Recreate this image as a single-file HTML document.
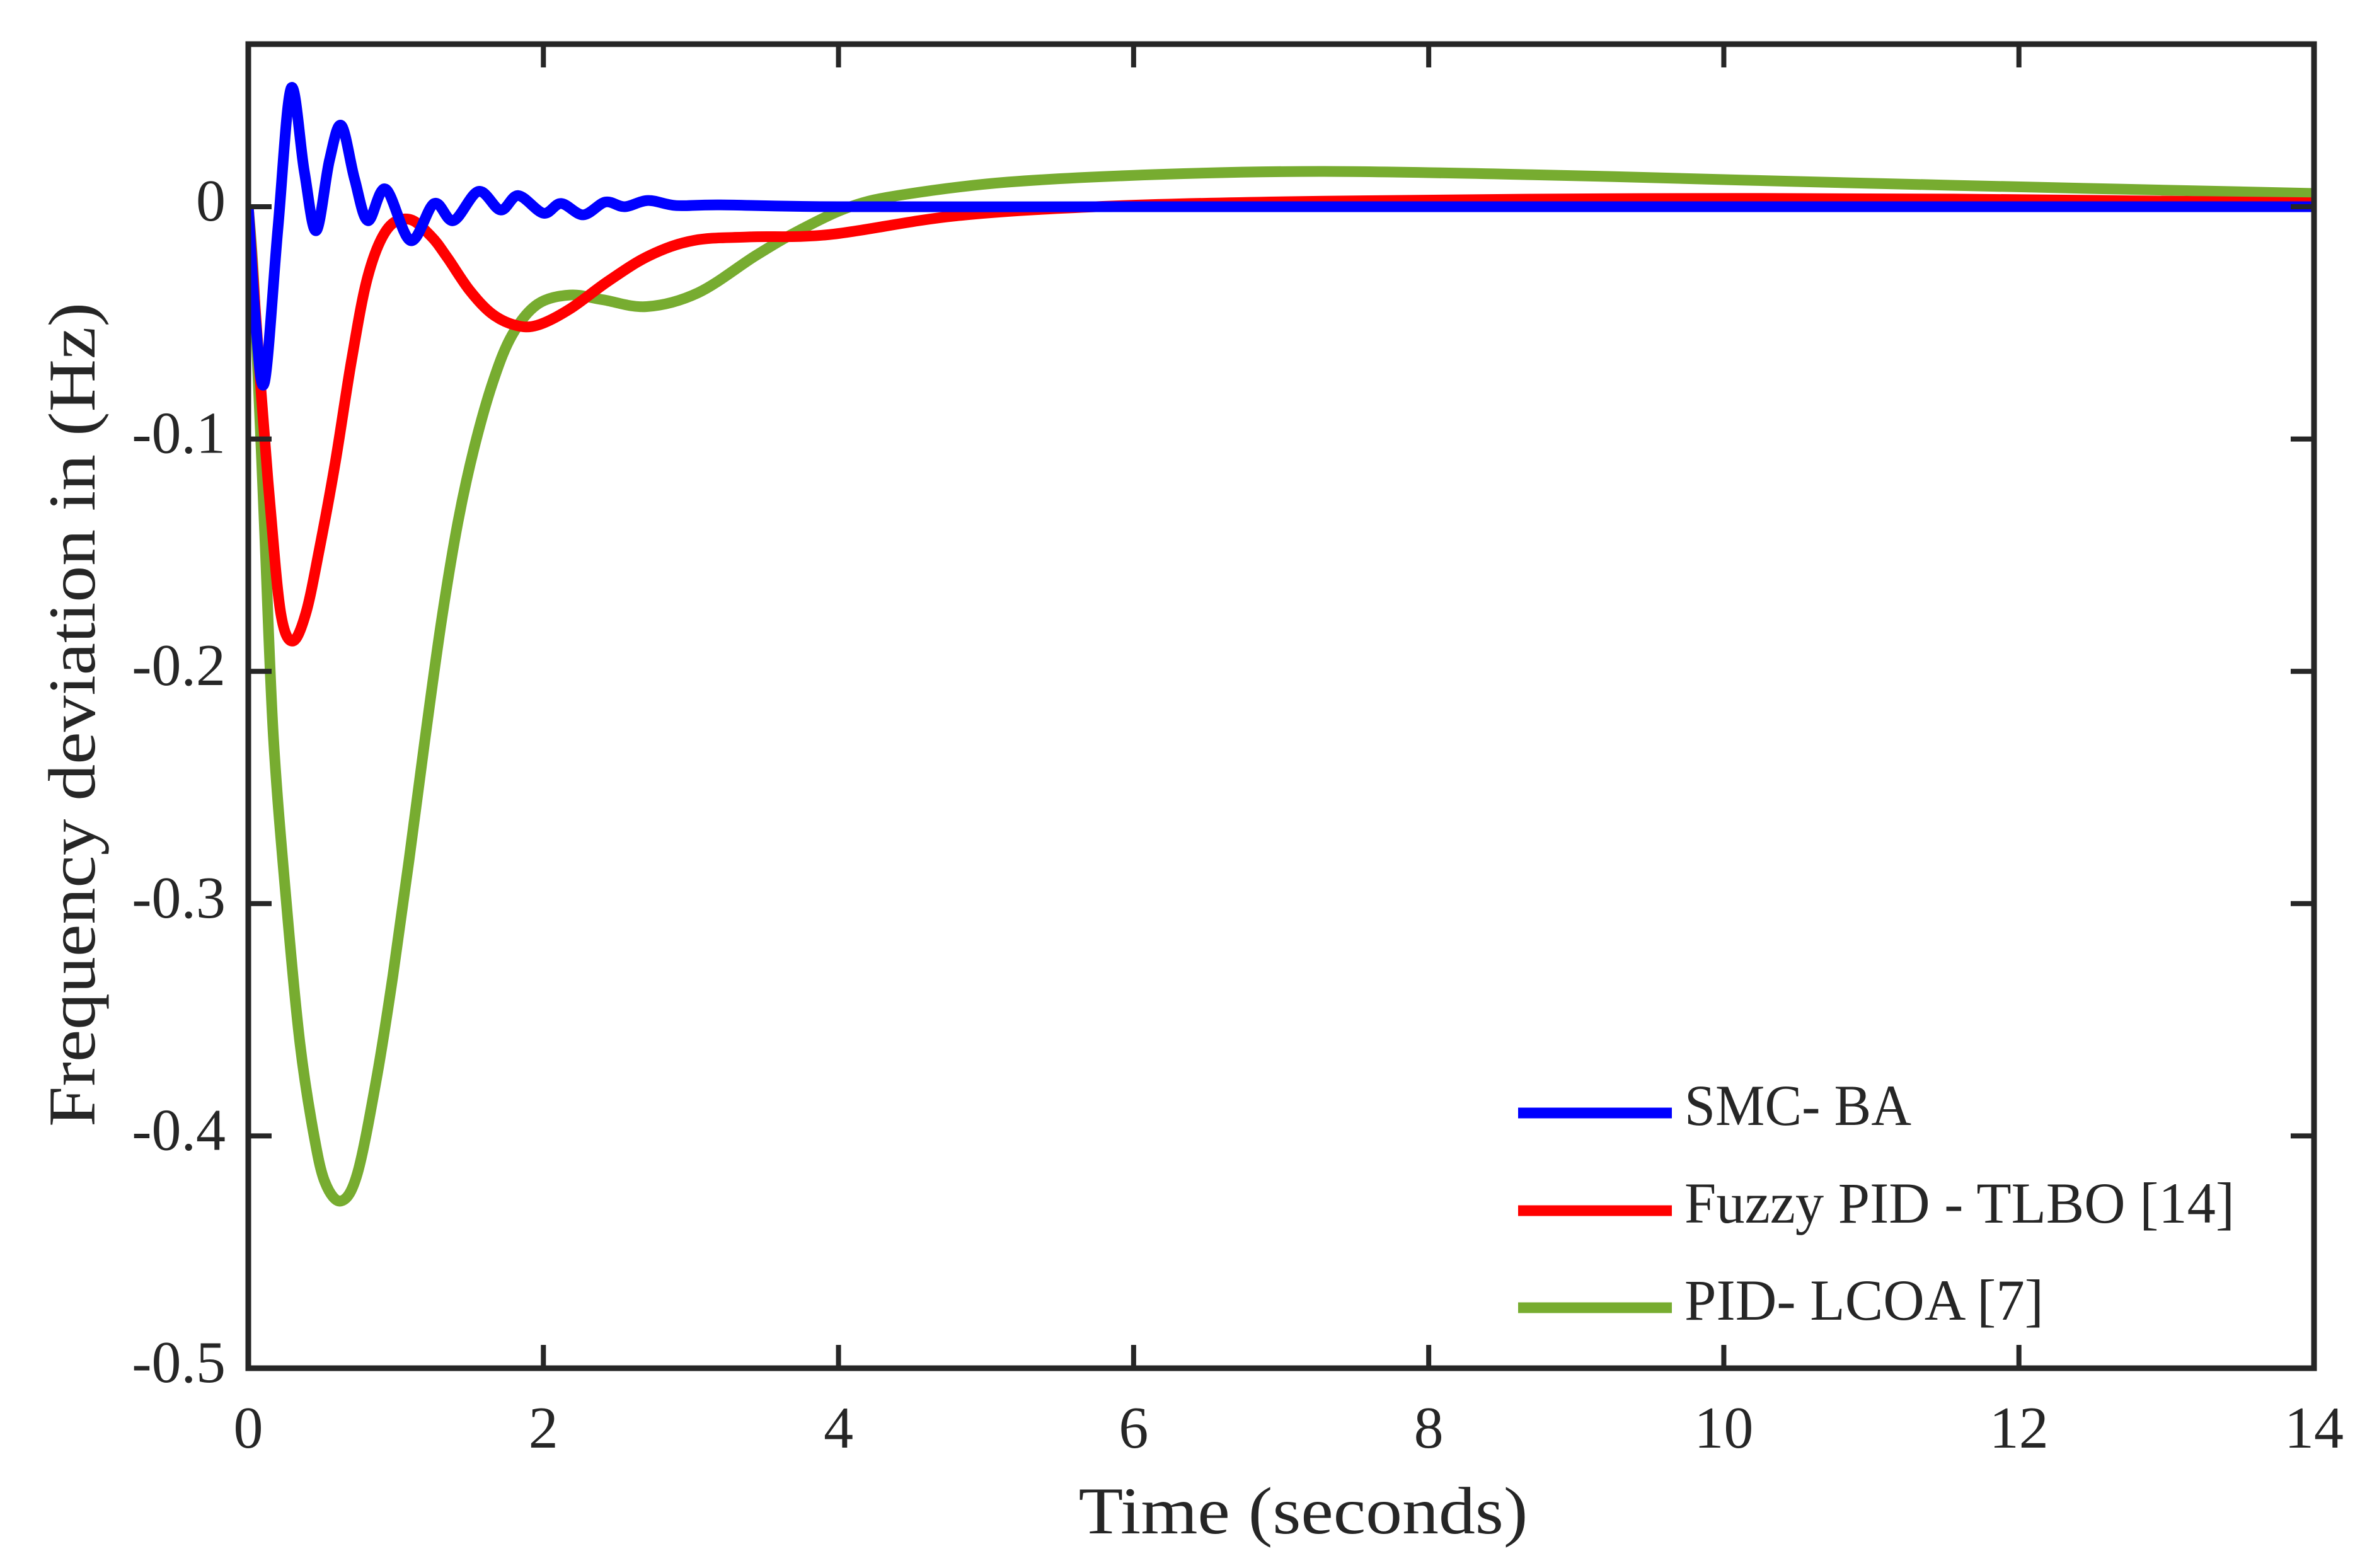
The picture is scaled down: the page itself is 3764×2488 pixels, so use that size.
<!DOCTYPE html>
<html><head><meta charset="utf-8"><style>
html,body{margin:0;padding:0;background:#fff;}
svg{display:block;}
text{font-family:"Liberation Serif",serif;fill:#262626;}
</style></head><body>
<svg id="chart" width="3764" height="2488" viewBox="0 0 3764 2488" xmlns="http://www.w3.org/2000/svg">
<rect x="0" y="0" width="3764" height="2488" fill="#fff"/>
<g id="series"></g>
<g id="axes"></g>
<g id="legend"></g>
</svg>
<script>
const xTicks = [0,2,4,6,8,10,12,14];
const yTicks = [0,-0.1,-0.2,-0.3,-0.4,-0.5];
const yTickLabels = ["0","-0.1","-0.2","-0.3","-0.4","-0.5"];
const seriesNames = ["SMC- BA","Fuzzy PID - TLBO [14]","PID- LCOA [7]"];
const smcT = [0,0.05,0.11,0.2,0.29,0.38,0.46,0.55,0.63,0.72,0.81,0.93,1.10,1.26,1.39,1.56,1.71,1.83,2.0,2.12,2.27,2.42,2.55,2.71,2.9,3.2,4,6,8,10,12,14];
const smcV = [0,-0.05,-0.0755,-0.01,0.051,0.015,-0.0103,0.02,0.035,0.012,-0.006,0.0076,-0.0146,0.0014,-0.006,0.0066,-0.0014,0.0048,-0.0028,0.0014,-0.0035,0.002,0,0.0027,0.0005,0.0008,0,0,0,0,0,0];
const fuzzyT = [0,0.087,0.15,0.22,0.30,0.39,0.48,0.59,0.70,0.81,0.94,1.09,1.24,1.35,1.5,1.65,1.81,1.96,2.18,2.44,2.72,3.02,3.4,3.94,4.8,5.86,7.29,9.42,11.56,14];
const fuzzyV = [0,-0.080,-0.13,-0.175,-0.187,-0.175,-0.148,-0.11,-0.066,-0.030,-0.0098,-0.0054,-0.0128,-0.022,-0.036,-0.046,-0.051,-0.051,-0.044,-0.032,-0.021,-0.0145,-0.013,-0.012,-0.0039,0.0003,0.0024,0.0035,0.0033,0.0017];
const lcoaT = [0,0.04,0.11,0.17,0.26,0.35,0.44,0.52,0.63,0.74,0.87,0.98,1.09,1.2,1.31,1.42,1.53,1.66,1.79,1.96,2.18,2.4,2.7,3.05,3.44,3.73,4.08,4.44,5.15,6.22,7.29,8.7,10.1,11.56,14];
const lcoaV = [0,-0.036,-0.139,-0.228,-0.301,-0.36,-0.398,-0.42,-0.428,-0.416,-0.375,-0.331,-0.281,-0.228,-0.178,-0.136,-0.104,-0.075,-0.055,-0.042,-0.038,-0.040,-0.043,-0.037,-0.021,-0.0103,0,0.0052,0.0106,0.014,0.0152,0.0138,0.0115,0.0092,0.0057];

const L=394,R=3672,T=70,B=2171,X0=0,X1=14,Y0=-0.5,Y1=0.07;
const sx=t=>L+(t-X0)/(X1-X0)*(R-L);
const sy=v=>B-(v-Y0)/(Y1-Y0)*(B-T);
const NS="http://www.w3.org/2000/svg";
function mk(tag,attrs,parent){const e=document.createElementNS(NS,tag);for(const k in attrs)e.setAttribute(k,attrs[k]);parent.appendChild(e);return e;}

function pathFor(ts,vs){
  const p=ts.map((t,i)=>[sx(t),sy(vs[i])]);
  let d="M"+p[0][0].toFixed(1)+","+p[0][1].toFixed(1);
  for(let i=0;i<p.length-1;i++){
    const p0=p[Math.max(0,i-1)],p1=p[i],p2=p[i+1],p3=p[Math.min(p.length-1,i+2)];
    const c1=[p1[0]+(p2[0]-p0[0])/6,p1[1]+(p2[1]-p0[1])/6];
    const c2=[p2[0]-(p3[0]-p1[0])/6,p2[1]-(p3[1]-p1[1])/6];
    d+="C"+c1[0].toFixed(1)+","+c1[1].toFixed(1)+" "+c2[0].toFixed(1)+","+c2[1].toFixed(1)+" "+p2[0].toFixed(1)+","+p2[1].toFixed(1);
  }
  return d;
}
const colors=["#0000ff","#ff0000","#77ac30"];
const sg=document.getElementById("series");
const clip=mk("clipPath",{id:"pc"},sg);mk("rect",{x:L,y:T,width:R-L,height:B-T},clip);
const data=[[smcT,smcV],[fuzzyT,fuzzyV],[lcoaT,lcoaV]];
const lineNames=["smc-ba-line","fuzzy-pid-tlbo-line","pid-lcoa-line"];
[2,1,0].forEach(i=>{
  const p=mk("path",{d:pathFor(data[i][0],data[i][1]),fill:"none",stroke:colors[i],"stroke-width":17,"stroke-linejoin":"round","clip-path":"url(#pc)"},sg);
  
  
});

const ag=document.getElementById("axes");
const box=mk("rect",{x:L,y:T,width:R-L,height:B-T,fill:"none",stroke:"#262626","stroke-width":9},ag);


xTicks.forEach(t=>{
  const x=sx(t);
  const tk=mk("path",{d:`M${x},${B}V${B-37}M${x},${T}V${T+37}`,stroke:"#262626","stroke-width":8},ag);
  
  
  const lb=mk("text",{x:x,y:2297,"text-anchor":"middle","font-size":94},ag);
  lb.textContent=String(t);
  
  
});
yTicks.forEach((v,i)=>{
  const y=sy(v);
  const tk=mk("path",{d:`M${L},${y}H${L+37}M${R},${y}H${R-37}`,stroke:"#262626","stroke-width":8},ag);
  
  
  const lb=mk("text",{x:358,y:y+22,"text-anchor":"end","font-size":94},ag);
  lb.textContent=yTickLabels[i];
  
  
});
const xt=mk("text",{x:2068,y:2433,"text-anchor":"middle","font-size":106,textLength:713,lengthAdjust:"spacingAndGlyphs"},ag);
xt.textContent="Time (seconds)";


const yt=mk("text",{x:0,y:0,"text-anchor":"middle","font-size":106,textLength:1308,lengthAdjust:"spacingAndGlyphs",transform:"translate(150,1134) rotate(-90)"},ag);
yt.textContent="Frequency deviation in (Hz)";



const lg=document.getElementById("legend");
const legY=[1766,1921,2075];
const legW=[360,873,570];
seriesNames.forEach((n,i)=>{
  const ln=mk("line",{x1:2409,x2:2653,y1:legY[i],y2:legY[i],stroke:colors[i],"stroke-width":17},lg);
  
  
  const tx=mk("text",{x:2673,y:legY[i]+19,"font-size":92,fill:"#000",textLength:legW[i],lengthAdjust:"spacingAndGlyphs"},lg);
  tx.textContent=n;
  
  
});
</script>
</body></html>
